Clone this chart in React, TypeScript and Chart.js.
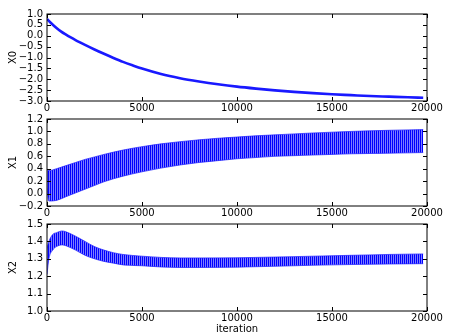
import React, { useEffect, useRef } from 'react';
import { Chart, registerables } from 'chart.js';

Chart.register(...registerables);

// ---- data ----
const xTickValues = [0, 5000, 10000, 15000, 20000];

const x0Iter = [0, 250, 500, 750, 1000, 1250, 1500, 2000, 2500, 3000, 3500, 4000, 4500, 5000, 6000, 7000, 8000, 9000, 10000, 11000, 12000, 13000, 14000, 15000, 16000, 17000, 18000, 19000, 19800];
const x0Val = [0.77, 0.55, 0.36, 0.19, 0.05, -0.08, -0.2, -0.42, -0.63, -0.83, -1.02, -1.2, -1.36, -1.51, -1.76, -1.95, -2.1, -2.23, -2.34, -2.43, -2.51, -2.58, -2.64, -2.69, -2.73, -2.77, -2.8, -2.83, -2.85];

const x1Iter = [0, 100, 500, 1000, 1500, 2000, 2500, 3000, 4000, 5000, 6000, 7000, 8000, 9000, 10000, 11000, 12000, 13000, 14000, 15000, 16000, 17000, 18000, 19000, 19800];
const x1Upper = [0.4, 0.37, 0.4, 0.45, 0.5, 0.55, 0.59, 0.63, 0.7, 0.755, 0.8, 0.835, 0.865, 0.89, 0.91, 0.93, 0.945, 0.96, 0.975, 0.988, 1.0, 1.01, 1.018, 1.025, 1.03];
const x1Lower = [0.08, -0.12, -0.11, -0.05, 0.01, 0.07, 0.13, 0.19, 0.28, 0.35, 0.41, 0.46, 0.5, 0.53, 0.56, 0.58, 0.6, 0.61, 0.62, 0.63, 0.64, 0.645, 0.65, 0.655, 0.66];

const x2Iter = [0, 100, 300, 500, 800, 1000, 1500, 2000, 2500, 3000, 3500, 4000, 5000, 6000, 7000, 8000, 10000, 12000, 14000, 16000, 18000, 19800];
const x2Upper = [1.36, 1.4, 1.44, 1.45, 1.46, 1.455, 1.43, 1.4, 1.37, 1.35, 1.335, 1.325, 1.315, 1.308, 1.305, 1.305, 1.306, 1.31, 1.315, 1.32, 1.325, 1.328];
const x2Lower = [1.21, 1.3, 1.35, 1.37, 1.38, 1.375, 1.35, 1.32, 1.3, 1.285, 1.275, 1.265, 1.26, 1.253, 1.25, 1.25, 1.252, 1.257, 1.263, 1.267, 1.27, 1.272];

const FONT = "'DejaVu Sans', 'Liberation Sans', sans-serif";
const W = 450;
const H = 334;

const toPts = (xs: number[], ys: number[]) => xs.map((x, i) => ({ x, y: ys[i] }));

const fmt = (v: number) => {
  if (Math.abs(v) < 1e-9) return '0.0';
  return (v < 0 ? '\u2212' : '') + Math.abs(v).toFixed(1);
};

const framePlugin = {
  id: 'mplFrame',
  afterDatasetsDraw(chart: any) {
    const { ctx, chartArea, scales } = chart;
    const { left, top, right, bottom } = chartArea;
    ctx.save();
    ctx.strokeStyle = '#000';
    ctx.lineWidth = 1;
    ctx.beginPath();
    scales.x.ticks.forEach((t: any) => {
      const px = Math.round(scales.x.getPixelForValue(t.value)) + 0.5;
      ctx.moveTo(px, bottom);
      ctx.lineTo(px, bottom - 4);
      ctx.moveTo(px, top);
      ctx.lineTo(px, top + 4);
    });
    scales.y.ticks.forEach((t: any) => {
      const py = Math.round(scales.y.getPixelForValue(t.value)) + 0.5;
      ctx.moveTo(left, py);
      ctx.lineTo(left + 4, py);
      ctx.moveTo(right, py);
      ctx.lineTo(right - 4, py);
    });
    ctx.stroke();
    ctx.strokeRect(left, top, right - left, bottom - top);
    ctx.restore();
  },
};

function makePattern(): CanvasPattern | string {
  const c = document.createElement('canvas');
  c.width = 2;
  c.height = 1;
  const g = c.getContext('2d');
  if (!g) return 'rgba(0,0,255,0.7)';
  g.fillStyle = 'rgb(0,0,255)';
  g.fillRect(0, 0, 1, 1);
  g.fillStyle = 'rgb(125,125,255)';
  g.fillRect(1, 0, 1, 1);
  const p = g.createPattern(c, 'repeat');
  return p || 'rgba(0,0,255,0.7)';
}

type PanelDef = {
  areaTop: number;
  areaBottom: number;
  yMin: number;
  yMax: number;
  yStep: number;
  yLabel: string;
  xTitle?: string;
  kind: 'line' | 'band';
  iter: number[];
  a: number[];
  b?: number[];
};

const panels: PanelDef[] = [
  { areaTop: 14, areaBottom: 101, yMin: -3, yMax: 1, yStep: 0.5, yLabel: 'X0', kind: 'line', iter: x0Iter, a: x0Val },
  { areaTop: 119, areaBottom: 206, yMin: -0.2, yMax: 1.2, yStep: 0.2, yLabel: 'X1', kind: 'band', iter: x1Iter, a: x1Upper, b: x1Lower },
  { areaTop: 224, areaBottom: 311, yMin: 1.0, yMax: 1.5, yStep: 0.1, yLabel: 'X2', xTitle: 'iteration', kind: 'band', iter: x2Iter, a: x2Upper, b: x2Lower },
];

function buildConfig(p: PanelDef, pattern: CanvasPattern | string): any {
  const datasets: any[] =
    p.kind === 'line'
      ? [
          {
            data: toPts(p.iter, p.a),
            borderColor: 'rgb(25,25,255)',
            borderWidth: 2.6,
            pointRadius: 0,
            fill: false,
            cubicInterpolationMode: 'monotone',
          },
        ]
      : [
          {
            data: toPts(p.iter, p.a),
            borderColor: 'rgba(30,30,255,0.7)',
            borderWidth: 1,
            pointRadius: 0,
            fill: false,
            cubicInterpolationMode: 'monotone',
          },
          {
            data: toPts(p.iter, p.b as number[]),
            borderColor: 'rgba(30,30,255,0.7)',
            borderWidth: 1,
            pointRadius: 0,
            fill: '-1',
            backgroundColor: pattern,
            cubicInterpolationMode: 'monotone',
          },
        ];

  return {
    type: 'line',
    data: { datasets },
    plugins: [framePlugin],
    options: {
      animation: false,
      responsive: false,
      devicePixelRatio: 1,
      layout: { padding: { top: p.areaTop, right: W - 427, left: 0, bottom: 0 } },
      plugins: { legend: { display: false }, tooltip: { enabled: false }, title: { display: false } },
      scales: {
        x: {
          type: 'linear',
          min: 0,
          max: 20000,
          afterBuildTicks: (s: any) => {
            s.ticks = xTickValues.map((v) => ({ value: v }));
          },
          afterFit: (s: any) => {
            s.height = H - p.areaBottom;
          },
          grid: { display: false, drawTicks: false },
          border: { display: false },
          ticks: {
            autoSkip: false,
            maxRotation: 0,
            padding: 1,
            color: '#000',
            font: { family: FONT, size: 10 },
            callback: (v: any) => String(v),
          },
          title: {
            display: !!p.xTitle,
            text: p.xTitle || '',
            color: '#000',
            font: { family: FONT, size: 10 },
            padding: { top: 0, bottom: -1 },
          },
        },
        y: {
          type: 'linear',
          min: p.yMin,
          max: p.yMax,
          afterBuildTicks: (s: any) => {
            const n = Math.round((p.yMax - p.yMin) / p.yStep);
            const t: any[] = [];
            for (let i = 0; i <= n; i++) t.push({ value: p.yMin + i * p.yStep });
            s.ticks = t;
          },
          afterFit: (s: any) => {
            s.width = 47;
          },
          grid: { display: false, drawTicks: false },
          border: { display: false },
          ticks: {
            autoSkip: false,
            padding: 4,
            color: '#000',
            font: { family: FONT, size: 10 },
            callback: (v: any) => fmt(Number(v)),
          },
          title: {
            display: true,
            text: p.yLabel,
            color: '#000',
            font: { family: FONT, size: 10 },
            padding: 7,
          },
        },
      },
    },
  };
}

export default function App() {
  const r0 = useRef<HTMLCanvasElement>(null);
  const r1 = useRef<HTMLCanvasElement>(null);
  const r2 = useRef<HTMLCanvasElement>(null);

  useEffect(() => {
    document.body.style.margin = '0';
    const pattern = makePattern();
    const refs = [r0, r1, r2];
    const charts: Chart[] = [];
    panels.forEach((p, i) => {
      const c = refs[i].current;
      if (c) charts.push(new Chart(c, buildConfig(p, pattern)));
    });
    return () => charts.forEach((c) => c.destroy());
  }, []);

  const cs: React.CSSProperties = { position: 'absolute', left: 0, top: 0, width: W, height: H, display: 'block' };
  return (
    <div style={{ position: 'absolute', left: 0, top: 0, width: W, height: H, background: '#fff' }}>
      <canvas ref={r0} width={W} height={H} style={cs} />
      <canvas ref={r1} width={W} height={H} style={cs} />
      <canvas ref={r2} width={W} height={H} style={cs} />
    </div>
  );
}
